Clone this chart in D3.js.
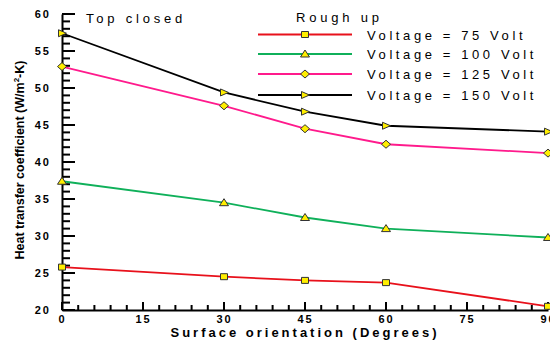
<!DOCTYPE html>
<html>
<head>
<meta charset="utf-8">
<script src="https://cdn.jsdelivr.net/npm/d3@7"></script>
<style>
  body { margin: 0; background: #fff; }
  text { font-family: "Liberation Sans", Arial, sans-serif; }
</style>
</head>
<body>
<div id="chart"></div>
<script>
const angles = [0, 30, 45, 60, 90]
const v75 = [25.8, 24.5, 24.0, 23.7, 20.5]
const v100 = [37.4, 34.5, 32.5, 31.0, 29.8]
const v125 = [52.9, 47.6, 44.5, 42.4, 41.2]
const v150 = [57.4, 49.4, 46.8, 44.9, 44.1]
const seriesNames = ["Voltage = 75 Volt", "Voltage = 100 Volt", "Voltage = 125 Volt", "Voltage = 150 Volt"]
const xTicks = [0, 15, 30, 45, 60, 75, 90]
const yTicks = [20, 25, 30, 35, 40, 45, 50, 55, 60]

const colors = ["#e8111b", "#0fb05a", "#ff1a8c", "#000000"]
const shapes = ["square", "triUp", "diamond", "triRight"]
const seriesData = [v75, v100, v125, v150]

window.onload = function(){
    const svg = d3.select("#chart").append("svg")
        .attr("width", 550)
        .attr("height", 343)

    const x = d3.scaleLinear().domain([0, 90]).range([62, 548])
    const y = d3.scaleLinear().domain([20, 60]).range([310, 14])

    // minor ticks
    const g = svg.append("g")
    g.selectAll(".ymin").data(d3.range(20, 61, 1)).enter().append("line")
        .attr("x1", 62).attr("x2", d => d % 5 === 0 ? 75 : 70)
        .attr("y1", d => y(d)).attr("y2", d => y(d))
        .attr("stroke", "#000").attr("stroke-width", 2)
    g.selectAll(".xmin").data(d3.range(0, 91, 3)).enter().append("line")
        .attr("y1", 310).attr("y2", d => d % 15 === 0 ? 302 : 305)
        .attr("x1", d => x(d)).attr("x2", d => x(d))
        .attr("stroke", "#000").attr("stroke-width", 2)

    const yAxis = svg.append("g")
        .attr("transform", "translate(62,0)")
        .call(d3.axisLeft(y).tickValues(yTicks).tickSize(0).tickPadding(11))
    yAxis.select(".domain").attr("stroke-width", 2)
    yAxis.selectAll("text").attr("font-size", 11).attr("font-weight", "bold")
        .attr("letter-spacing", "2px").attr("fill", "#000")

    const xAxis = svg.append("g")
        .attr("transform", "translate(0,310)")
        .call(d3.axisBottom(x).tickValues(xTicks).tickSize(0).tickPadding(5))
    xAxis.select(".domain").attr("stroke-width", 2)
    xAxis.selectAll("text").attr("font-size", 11).attr("font-weight", "bold")
        .attr("letter-spacing", "2px").attr("fill", "#000")

    const symbolFor = function(s){
        if (s === "square") return "M-3.5,-3L3.5,-3L3.5,3L-3.5,3Z"
        if (s === "diamond") return "M0,-4L4.5,0L0,4L-4.5,0Z"
        if (s === "triUp") return "M0,-4L4.5,3L-4.5,3Z"
        return "M-3.5,-3.5L4.5,0L-3.5,3.5Z"
    }

    const line = d3.line()
        .x((d, i) => x(angles[i]))
        .y(d => y(d))

    seriesData.forEach(function(vals, k){
        svg.append("path")
            .datum(vals)
            .attr("fill", "none")
            .attr("stroke", colors[k])
            .attr("stroke-width", 1.8)
            .attr("d", line)
        svg.selectAll(".m" + k)
            .data(vals).enter()
            .append("path")
            .attr("transform", (d, i) => "translate(" + x(angles[i]) + "," + y(d) + ")")
            .attr("d", symbolFor(shapes[k]))
            .attr("fill", "#ffee00")
            .attr("stroke", "#333")
            .attr("stroke-width", 1)
    })

    // legend
    const legY = [34.5, 54, 74, 95]
    seriesNames.forEach(function(name, k){
        svg.append("line")
            .attr("x1", 258).attr("x2", 352)
            .attr("y1", legY[k]).attr("y2", legY[k])
            .attr("stroke", colors[k]).attr("stroke-width", 1.8)
        svg.append("path")
            .attr("transform", "translate(305," + legY[k] + ")")
            .attr("d", symbolFor(shapes[k]))
            .attr("fill", "#ffee00")
            .attr("stroke", "#333")
        svg.append("text")
            .attr("x", 367).attr("y", legY[k] + 5)
            .attr("font-size", 13).attr("letter-spacing", "3.6px")
            .text(name)
    })

    svg.append("text")
        .attr("x", 296).attr("y", 22)
        .attr("font-size", 13).attr("letter-spacing", "3.8px")
        .text("Rough up")

    svg.append("text")
        .attr("x", 86).attr("y", 23)
        .attr("font-size", 13).attr("letter-spacing", "3.8px")
        .text("Top closed")

    svg.append("text")
        .attr("x", 305).attr("y", 337)
        .attr("text-anchor", "middle")
        .attr("font-size", 13).attr("font-weight", "bold")
        .attr("letter-spacing", "3px")
        .text("Surface orientation (Degrees)")

    const yl = svg.append("text")
        .attr("transform", "translate(24,160) rotate(-90)")
        .attr("text-anchor", "middle")
        .attr("font-size", 12.5).attr("font-weight", "bold")
    yl.append("tspan").text("Heat transfer coefficient (W/m")
    yl.append("tspan").attr("dy", -5).attr("font-size", 8).text("2")
    yl.append("tspan").attr("dy", 5).text("-K)")
}
</script>
</body>
</html>
